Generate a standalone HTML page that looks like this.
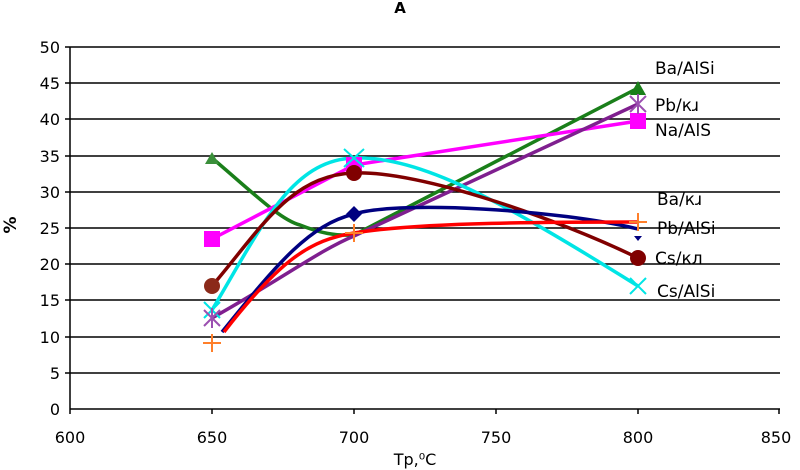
<!DOCTYPE html><html><head><style>body{margin:0;background:#fff}svg{display:block;font-family:"DejaVu Sans","Liberation Sans",sans-serif}</style></head><body>
<svg width="800" height="470" viewBox="0 0 800 470">
<text x="400" y="13" font-size="15" font-weight="bold" text-anchor="middle">A</text>
<g stroke="#000" stroke-width="1.5">
<line x1="70" y1="47" x2="780" y2="47"/><line x1="70" y1="83" x2="780" y2="83"/><line x1="70" y1="119" x2="780" y2="119"/><line x1="70" y1="156" x2="780" y2="156"/><line x1="70" y1="192" x2="780" y2="192"/><line x1="70" y1="228" x2="780" y2="228"/><line x1="70" y1="264" x2="780" y2="264"/><line x1="70" y1="300" x2="780" y2="300"/><line x1="70" y1="337" x2="780" y2="337"/><line x1="70" y1="373" x2="780" y2="373"/><line x1="70" y1="409" x2="780" y2="409"/>
<line x1="70" y1="47" x2="70" y2="414"/>
<line x1="65" y1="47" x2="70" y2="47"/><line x1="65" y1="83" x2="70" y2="83"/><line x1="65" y1="119" x2="70" y2="119"/><line x1="65" y1="156" x2="70" y2="156"/><line x1="65" y1="192" x2="70" y2="192"/><line x1="65" y1="228" x2="70" y2="228"/><line x1="65" y1="264" x2="70" y2="264"/><line x1="65" y1="300" x2="70" y2="300"/><line x1="65" y1="337" x2="70" y2="337"/><line x1="65" y1="373" x2="70" y2="373"/>
<line x1="212" y1="409" x2="212" y2="414"/><line x1="354" y1="409" x2="354" y2="414"/><line x1="496" y1="409" x2="496" y2="414"/><line x1="638" y1="409" x2="638" y2="414"/><line x1="779" y1="409" x2="779" y2="414"/>
</g>
<g font-size="16" text-anchor="end">
<text x="60" y="53">50</text><text x="60" y="89">45</text><text x="60" y="125">40</text><text x="60" y="162">35</text><text x="60" y="198">30</text><text x="60" y="234">25</text><text x="60" y="270">20</text><text x="60" y="306">15</text><text x="60" y="343">10</text><text x="60" y="379">5</text><text x="60" y="415">0</text>
</g>
<g font-size="16" text-anchor="middle">
<text x="70" y="443">600</text><text x="212" y="443">650</text><text x="354" y="443">700</text><text x="496" y="443">750</text><text x="638" y="443">800</text><text x="776" y="443">850</text>
<text x="415" y="465">Tр,⁰C</text>
</g>
<text x="16" y="225" font-size="17" font-weight="bold" transform="rotate(-90 16 225)" text-anchor="middle">%</text>
<g fill="none" stroke-width="3.5">
<path d="M212,158 C250,190 280,220 300,225 C320,233 335,236 354,235 L638,88" stroke="#1a7f1a"/>
<path d="M212,239 L354,165 L638,121" stroke="#ff00ff"/>
<path d="M212,318 C280,280 320,250 354,236 L638,104" stroke="#7f1f8f"/>
<path d="M212,310 C260,230 290,160 354,158 C420,156 500,200 638,286" stroke="#00e5e5"/>
<path d="M212,286 C260,230 290,175 354,173 C420,170 560,220 638,258" stroke="#800000"/>
<path d="M222,332 C280,260 310,225 354,214 C400,200 560,210 638,229" stroke="#000080"/>
<path d="M224,332 C280,260 310,240 354,233 C420,222 560,222 638,222" stroke="#ff0000"/>
</g>
<polygon points="212,152 219,164 205,164" fill="#3a8f3a"/>
<polygon points="638,81 646,95 630,95" fill="#1a7f1a"/>
<rect x="204" y="231" width="16" height="16" fill="#ff00ff"/>
<rect x="346" y="157" width="16" height="16" fill="#ff00ff"/>
<rect x="630" y="113" width="16" height="16" fill="#ff00ff"/>
<circle cx="212" cy="286" r="8" fill="#8b2a1a"/><circle cx="354" cy="173" r="8" fill="#800000"/><circle cx="638" cy="258" r="8" fill="#800000"/>
<polygon points="354,206 362,214 354,222 346,214" fill="#000080"/>
<polygon points="634,236 642,236 638,241" fill="#000080"/>
<g stroke-width="2">
<g stroke="#00e5e5"><line x1="204" y1="302" x2="220" y2="318"/><line x1="220" y1="302" x2="204" y2="318"/><line x1="344" y1="149" x2="364" y2="167"/><line x1="364" y1="149" x2="344" y2="167"/><line x1="630" y1="278" x2="646" y2="294"/><line x1="646" y1="278" x2="630" y2="294"/></g>
<g stroke="#9b4fb0"><line x1="204" y1="310" x2="220" y2="326"/><line x1="220" y1="310" x2="204" y2="326"/><line x1="212" y1="308" x2="212" y2="328"/><line x1="630" y1="96" x2="646" y2="112"/><line x1="646" y1="96" x2="630" y2="112"/><line x1="638" y1="94" x2="638" y2="114"/></g>
<g stroke="#ff7f2a"><line x1="212" y1="334" x2="212" y2="352"/><line x1="203" y1="343" x2="221" y2="343"/><line x1="354" y1="224" x2="354" y2="242"/><line x1="345" y1="233" x2="363" y2="233"/><line x1="638" y1="213" x2="638" y2="231"/><line x1="629" y1="222" x2="647" y2="222"/></g>
</g>
<g font-size="17">
<text x="655" y="74">Ba/AlSi</text><text x="655" y="111">Pb/кɹ</text><text x="655" y="136">Na/AlS</text>
<text x="657" y="205">Ba/кɹ</text><text x="657" y="234">Pb/AlSi</text><text x="655" y="264">Cs/кл</text><text x="657" y="297">Cs/AlSi</text>
</g>
</svg></body></html>
